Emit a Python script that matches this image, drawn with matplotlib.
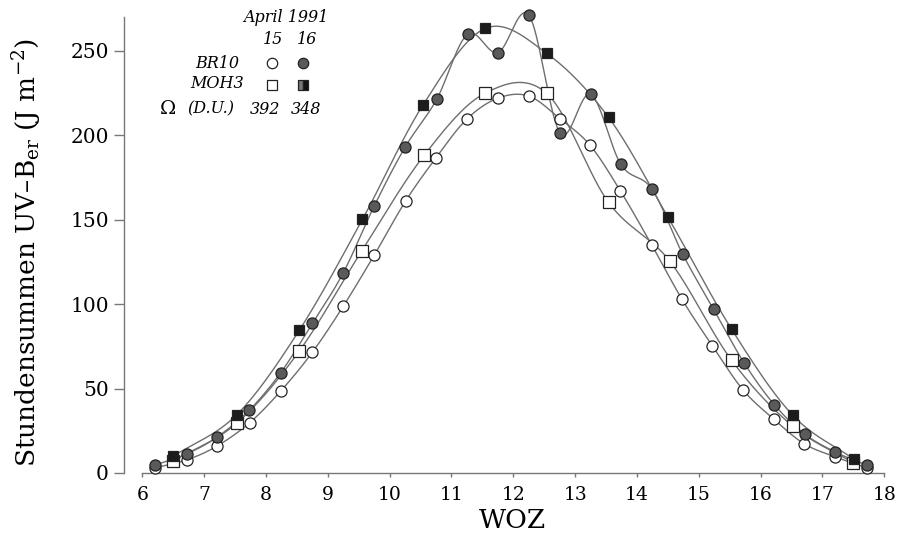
import numpy as np
import matplotlib
matplotlib.use("Agg")
import matplotlib.pyplot as plt

# ---------------- data ----------------
br10_15_x = [6.20, 6.73, 7.21, 7.74, 8.24, 8.75, 9.25, 9.75, 10.26, 10.75, 11.25, 11.75,
             12.25, 12.76, 13.24, 13.73, 14.24, 14.73, 15.22, 15.72, 16.22, 16.70, 17.21, 17.72]
br10_15_y = [3.0, 7.9, 16.0, 29.9, 48.6, 71.5, 98.8, 129.0, 161.2, 186.7, 209.7, 222.0,
             223.3, 209.7, 194.2, 167.2, 135.0, 102.8, 75.3, 49.0, 31.7, 17.4, 9.5, 3.0]

br10_16_x = [6.20, 6.73, 7.21, 7.73, 8.24, 8.75, 9.25, 9.75, 10.25, 10.76, 11.26, 11.75,
             12.25, 12.76, 13.25, 13.74, 14.24, 14.74, 15.24, 15.73, 16.22, 16.72, 17.21, 17.72]
br10_16_y = [4.6, 11.5, 21.3, 37.2, 59.5, 88.6, 118.6, 158.1, 193.0, 221.3, 259.9, 249.0,
             271.3, 201.2, 224.3, 182.8, 168.3, 129.6, 96.9, 65.4, 40.5, 22.9, 12.4, 4.6]

moh3_15_x = [6.50, 7.53, 8.54, 9.55, 10.56, 11.54, 12.54, 13.54, 14.53, 15.53, 16.52, 17.50]
moh3_15_y = [7.0, 29.6, 72.3, 131.6, 188.3, 224.9, 224.9, 160.3, 125.5, 66.8, 27.7, 6.0]

moh3_16_x = [6.50, 7.53, 8.54, 9.56, 10.54, 11.55, 12.54, 13.54, 14.50, 15.53, 16.52, 17.51]
moh3_16_y = [9.9, 34.6, 84.6, 150.2, 218.0, 263.4, 248.6, 210.7, 151.6, 85.2, 34.2, 8.1]

x_ticks = [6, 7, 8, 9, 10, 11, 12, 13, 14, 15, 16, 17, 18]
y_ticks = [0, 50, 100, 150, 200, 250]


def hermite_curve(x, y, n=40):
    """Catmull-Rom style cubic Hermite curve through the points."""
    x = np.asarray(x, float)
    y = np.asarray(y, float)
    m = np.zeros_like(y)
    m[1:-1] = (y[2:] - y[:-2]) / (x[2:] - x[:-2])
    m[0] = (y[1] - y[0]) / (x[1] - x[0])
    m[-1] = (y[-1] - y[-2]) / (x[-1] - x[-2])
    xs_all, ys_all = [], []
    for i in range(len(x) - 1):
        h = x[i + 1] - x[i]
        t = np.linspace(0, 1, n, endpoint=(i == len(x) - 2))
        h00 = 2 * t ** 3 - 3 * t ** 2 + 1
        h10 = t ** 3 - 2 * t ** 2 + t
        h01 = -2 * t ** 3 + 3 * t ** 2
        h11 = t ** 3 - t ** 2
        xs_all.append(x[i] + t * h)
        ys_all.append(h00 * y[i] + h10 * h * m[i] + h01 * y[i + 1] + h11 * h * m[i + 1])
    return np.concatenate(xs_all), np.concatenate(ys_all)


serif = "DejaVu Serif"
plt.rcParams["font.family"] = [serif]
plt.rcParams["mathtext.fontset"] = "dejavuserif"

W, H = 898, 535
fig = plt.figure(figsize=(W / 100, H / 100), dpi=100)
ax = fig.add_axes([142.3 / W, 1 - 473 / H, (884.3 - 142.3) / W, (473 - 17.2) / H])

line_c = "#6e6e6e"

series = [
    (br10_15_x, br10_15_y, "o", "white", 8.0),
    (moh3_15_x, moh3_15_y, "s", "white", 8.0),
    (moh3_16_x, moh3_16_y, "s", "#1c1c1c", 7.5),
    (br10_16_x, br10_16_y, "o", "#5a5a5a", 8.0),
]
for xs, ys, mk, fc, ms in series:
    sx, sy = hermite_curve(xs, ys)
    ax.plot(sx, sy, color=line_c, lw=1.0, zorder=2, clip_on=False)
for xs, ys, mk, fc, ms in series:
    ax.plot(xs, ys, ls="none", marker=mk, ms=ms, mfc=fc, mec="#222222", mew=0.9,
            zorder=4, clip_on=False)

ax.set_xlim(6, 18)
ax.set_ylim(0, 270)
ax.set_xticks(x_ticks)
ax.set_yticks(y_ticks)
ax.set_xticklabels([str(v) for v in x_ticks])
ax.set_yticklabels([str(v) for v in y_ticks])
for s in ["top", "right"]:
    ax.spines[s].set_visible(False)
ax.spines["left"].set_position(("outward", 13))
for s in ["left", "bottom"]:
    ax.spines[s].set_color("#777777")
    ax.spines[s].set_linewidth(1.0)
ax.tick_params(axis="y", direction="out", length=7, width=1.0, color="#777777", pad=4,
               labelsize=14.5)
ax.tick_params(axis="x", direction="out", length=3, width=1.0, color="#777777", pad=6,
               labelsize=13.5)

fig.text(27 / W, 1 - 252 / H, "Stundensummen UV–B$_{\\rm er}$ (J m$^{-2}$)",
         rotation=90, ha="center", va="center", fontsize=19)
fig.text(512 / W, 1 - 520 / H, "WOZ", ha="center", va="center", fontsize=19)

# ---------------- legend block ----------------
def fx(px):
    return px / W


def fy(py):
    return 1 - py / H


lg = dict(fontsize=11.5, style="italic", ha="center", va="center")
fig.text(fx(286), fy(17), "April 1991", **lg)
fig.text(fx(273), fy(39), "15", **lg)
fig.text(fx(307), fy(39), "16", **lg)
fig.text(fx(217), fy(63), "BR10", **lg)
fig.text(fx(217), fy(84), "MOH3", **lg)
fig.text(fx(168), fy(109), "Ω", fontsize=14, ha="center", va="center")
fig.text(fx(211), fy(109), "(D.U.)", **lg)
fig.text(fx(265), fy(109), "392", **lg)
fig.text(fx(306), fy(109), "348", **lg)

ax.plot([fx(272)], [fy(63)], transform=fig.transFigure, marker="o", ms=7.5,
        mfc="white", mec="#222222", mew=0.9, clip_on=False)
ax.plot([fx(303)], [fy(63)], transform=fig.transFigure, marker="o", ms=7.5,
        mfc="#5a5a5a", mec="#222222", mew=0.9, clip_on=False)
ax.plot([fx(272)], [fy(85)], transform=fig.transFigure, marker="s", ms=7.0,
        mfc="white", mec="#222222", mew=0.9, clip_on=False)
ax.plot([fx(303)], [fy(85)], transform=fig.transFigure, marker="s", ms=7.0,
        fillstyle="left", mfc="#777777", mfcalt="#111111", mec="#222222", mew=0.9,
        clip_on=False)

fig.savefig("out.png", dpi=100)
